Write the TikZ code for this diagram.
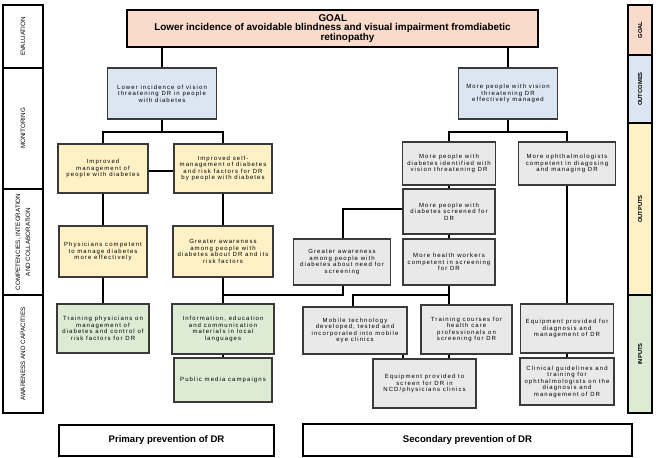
\documentclass[tikz,border=0pt]{standalone}
\usepackage{fontspec}
\setmainfont{Liberation Sans}
\newfontfamily\boxfont[LetterSpace=18]{Liberation Sans}
\definecolor{cpeach}{HTML}{F9DACB}
\definecolor{cblue}{HTML}{DCE6F2}
\definecolor{cyell}{HTML}{FEF1C6}
\definecolor{cgreen}{HTML}{DDEBD4}
\definecolor{cgrey}{HTML}{E9E9E9}
\definecolor{cedge}{HTML}{3A3A3A}
\begin{document}
\begin{tikzpicture}[x=1pt,y=-1pt,
  bx/.style={draw=cedge, line width=1.1pt, align=center, inner sep=0pt,
    font=\boxfont\fontsize{6}{6.5}\selectfont},
  bluebox/.style={bx, fill=cblue},
  yellbox/.style={bx, fill=cyell},
  greenbox/.style={bx, fill=cgreen},
  greybox/.style={bx, fill=cgrey},
  goalbox/.style={draw=black, line width=1.2pt, fill=cpeach, align=center, inner sep=0pt,
    font=\bfseries\fontsize{9.9}{9.9}\selectfont},
  prevbox/.style={draw=black, line width=1.3pt, fill=white, inner sep=0pt,
    font=\bfseries\fontsize{9.6}{11}\selectfont},
  secL/.style={draw=black, line width=1.1pt, rotate=90, inner sep=0pt, align=center,
    minimum height=40pt, font=\fontsize{6.3}{10}\selectfont},
  secR/.style={draw=black, line width=1.1pt, rotate=90, inner sep=0pt, align=center,
    minimum height=24pt, font=\bfseries\fontsize{5.8}{7}\selectfont},
  conn/.style={draw=black, line width=1.1pt}]
\useasboundingbox (0,0) rectangle (660,457);

% left section column
\node[secL, minimum width=63pt] (ev) at (23,36.5) {EVALUATION};
\node[secL, minimum width=121pt] (mo) at (23,128.5) {MONITORING};
\node[secL, minimum width=106pt] (co) at (23,242) {COMPETENCIES, INTEGRATION\\AND COLLABORATION};
\node[secL, minimum width=118pt] (aw) at (23,354) {AWARENESS AND CAPACITIES};

% right section column
\node[secR, fill=cpeach, minimum width=50pt] (rg) at (640,30) {GOAL};
\node[secR, fill=cblue, minimum width=68pt] (ro) at (640,89) {OUTCOMES};
\node[secR, fill=cyell, minimum width=172pt] (rp) at (640,209) {OUTPUTS};
\node[secR, fill=cgreen, minimum width=118pt] (ri) at (640,354) {INPUTS};

% goal
\node[goalbox, minimum width=411pt, minimum height=37pt] (goal) at (332.5,28.5)
  {\makebox[0pt][l]{\hspace{-14pt}GOAL}\\Lower incidence of avoidable blindness and visual impairment fromdiabetic\\\makebox[0pt][l]{\hspace{-12pt}retinopathy}};

% outcomes
\node[bluebox, minimum width=109pt, minimum height=51pt] (bl) at (162,93.5)
  {Lower incidence of vision\\threatening DR in people\\with diabetes};
\node[bluebox, minimum width=99pt, minimum height=51pt] (br) at (508,93.5)
  {More people with vision\\threatening DR\\effectively managed};

% primary prevention boxes
\node[yellbox, minimum width=90pt, minimum height=49pt] (y1l) at (103,168.5)
  {Improved\\management of\\people with diabetes};
\node[yellbox, minimum width=98pt, minimum height=49pt] (y1r) at (223,168.5)
  {Improved self-\\management of diabetes\\and risk factors for DR\\by people with diabetes};
\node[yellbox, minimum width=88pt, minimum height=51pt] (y2l) at (103,251.5)
  {Physicians competent\\to manage diabetes\\more effectively};
\node[yellbox, minimum width=100pt, minimum height=51pt] (y2r) at (223,251.5)
  {Greater awareness\\among people with\\diabetes about DR and its\\risk factors};
\node[greenbox, minimum width=92pt, minimum height=49pt] (g1) at (103,328.5)
  {Training physicians on\\management of\\diabetes and control of\\risk factors for DR};
\node[greenbox, minimum width=102pt, minimum height=50pt] (g2) at (223,329)
  {Information, education\\and communication\\materials in local\\languages};
\node[greenbox, minimum width=98pt, minimum height=44pt] (g3) at (223,380)
  {Public media campaigns};

% secondary prevention boxes
\node[greybox, minimum width=93pt, minimum height=43pt] (s1) at (449,163.5)
  {More people with\\diabetes identified with\\vision threatening DR};
\node[greybox, minimum width=97pt, minimum height=43pt] (s2) at (567,163.5)
  {More ophthalmologists\\competent in diagosing\\and managing DR};
\node[greybox, minimum width=92pt, minimum height=45pt] (s3) at (449,211.5)
  {More people with\\diabetes screened for\\DR};
\node[greybox, minimum width=97pt, minimum height=46pt] (s4) at (342,262)
  {Greater awareness\\among people with\\diabetes about need for\\screening};
\node[greybox, minimum width=92pt, minimum height=46pt] (s5) at (449,262)
  {More health workers\\competent in screening\\for DR};
\node[greybox, minimum width=104pt, minimum height=47pt] (s6) at (355,330.5)
  {Mobile technology\\developed, tested and\\incorporated into mobile\\eye clinics};
\node[greybox, minimum width=91pt, minimum height=49pt] (s7) at (466.5,329.5)
  {Training courses for\\health care\\professionals on\\screening for DR};
\node[greybox, minimum width=103pt, minimum height=49pt] (s8) at (424.5,383.5)
  {Equipment provided to\\screen for DR in\\NCD/physicians clinics};
\node[greybox, minimum width=93pt, minimum height=49pt] (s9) at (567,328.5)
  {Equipment provided for\\diagnosis and\\management of DR};
\node[greybox, minimum width=94pt, minimum height=47pt] (s10) at (567,381.5)
  {Clinical guidelines  and\\training for\\ophthalmologists on the\\diagnosis and\\management of DR};

% bottom labels
\node[prevbox, minimum width=215pt, minimum height=31pt] (pp) at (166.5,440.5) {Primary prevention of DR};
\node[prevbox, minimum width=329pt, minimum height=32pt] (sp) at (467.5,440) {Secondary prevention of DR};

% connectors left
\draw[conn] (goal.south -| bl.north) -- (bl.north);
\coordinate (jl) at (162,132);
\draw[conn] (bl.south) -- (jl);
\draw[conn] (y1l.north) |- (jl) -| (y1r.north);
\draw[conn] (y1l.east |- 0,171) -- (y1r.west |- 0,171);
\draw[conn] (y1l.south) -- (y2l.north);
\draw[conn] (y1r.south) -- (y2r.north);
\draw[conn] (y2l.south) -- (g1.north -| y2l.south);
\draw[conn] (y2r.south) -- (g2.north);
\draw[conn] (g2.south) -- (g3.north);

% connectors right
\draw[conn] (goal.south -| br.north) -- (br.north);
\coordinate (jr) at (508,132);
\draw[conn] (br.south) -- (jr);
\draw[conn] (s1.north) |- (jr) -| (s2.north);
\draw[conn] (s1.south) -- (s3.north);
\draw[conn] (s3.west |- 0,209) -| (s4.north -| 343,0);
\draw[conn] (s3.south) -- (s5.north);
\coordinate (ja) at (343,295);
\draw[conn] (s4.south -| ja) -- (ja) -- (ja -| y2r.south);
\coordinate (jb) at (449,295);
\draw[conn] (s5.south) -- (s7.north -| jb);
\draw[conn] (jb) -| (s6.north -| 353,0);
\draw[conn] (s6.south -| 403,0) -- (s8.north -| 403,0);
\draw[conn] (s7.south -| jb) -- (s8.north -| jb);
\draw[conn] (s2.south) -- (s9.north);
\draw[conn] (s9.south) -- (s10.north);
\end{tikzpicture}
\end{document}
